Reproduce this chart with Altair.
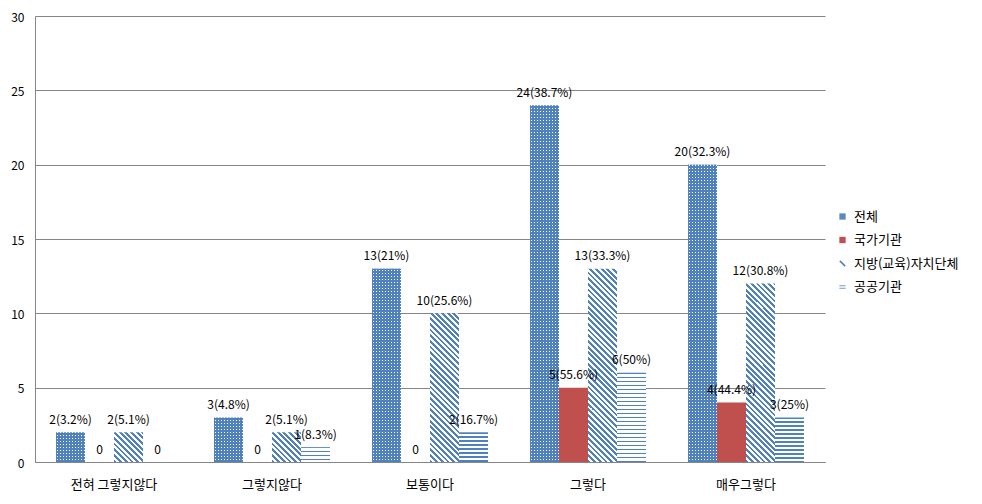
import math
import altair as alt

# ---------------- data ----------------
categories = ["전혀 그렇지않다", "그렇지않다", "보통이다", "그렇다", "매우그렇다"]
series = ["전체", "국가기관", "지방(교육)자치단체", "공공기관"]

total_vals = [2, 3, 13, 24, 20]
total_pct = ["3.2", "4.8", "21", "38.7", "32.3"]
national_vals = [0, 0, 0, 5, 4]
national_pct = ["", "", "", "55.6", "44.4"]
local_vals = [2, 2, 10, 13, 12]
local_pct = ["5.1", "5.1", "25.6", "33.3", "30.8"]
public_vals = [0, 1, 2, 6, 3]
public_pct = ["", "8.3", "16.7", "50", "25"]

y_ticks = [0, 5, 10, 15, 20, 25, 30]

# ---------------- layout / style ----------------
W, H = 790, 446
PAD_L, PAD_T = 27, 8
TOTAL_W, TOTAL_H = 966, 488
Y_MAX = 30
BAR_W = 29
STEP = W / len(categories)
PAD_INNER = 1 - 4 * BAR_W / STEP
PX = H / Y_MAX

BLUE = "#4F81BD"
RED = "#C0504D"
GRID = "#868686"
FONT = "Noto Sans CJK KR"


def hard_stops(segments):
    """segments: list of (start, end, color) in [0,1]"""
    stops = []
    for a, b, c in segments:
        a = max(0.0, min(1.0, a))
        b = max(0.0, min(1.0, b))
        stops.append({"offset": a, "color": c})
        stops.append({"offset": b, "color": c})
    return stops


def dots_fill():
    # vertical white 1px columns every 3px; a dashed overlay turns them into dots
    segs = []
    x = 0.0
    while x < BAR_W:
        segs.append((x / BAR_W, (x + 1) / BAR_W, BLUE))
        segs.append(((x + 1) / BAR_W, (x + 2) / BAR_W, "white"))
        segs.append(((x + 2) / BAR_W, (x + 3) / BAR_W, BLUE))
        x += 3
    return {"gradient": "linear", "x1": 0, "y1": 0, "x2": 1, "y2": 0,
            "stops": hard_stops(segs)}


def hline_fill(v):
    # horizontal blue lines, 1.3px every 4px, measured from the bar top
    h = v * PX
    if h <= 0:
        return "white"
    period = 4.0
    segs = []
    y = 0.0
    while y < h:
        segs.append((y / h, (y + 1.3) / h, BLUE))
        segs.append(((y + 1.3) / h, (y + period) / h, "white"))
        y += period
    return {"gradient": "linear", "x1": 0, "y1": 0, "x2": 0, "y2": 1,
            "stops": hard_stops(segs)}


def diag_fill(v):
    h = v * PX
    w = BAR_W
    if h <= 0:
        return "white"
    r = h / w
    a = (1 + r) / (1 + r * r)
    b = -r * (1 + r) / (1 + r * r)
    period = 5.7
    span = w + h
    n = int(math.ceil(span / period)) + 1
    segs = []
    for k in range(n):
        s = k * period / span
        m = (k * period + period / 2) / span
        e = (k + 1) * period / span
        if s >= 1:
            break
        segs.append((s, m, BLUE))
        segs.append((m, e, "white"))
    return {"gradient": "linear", "x1": 0, "y1": 1, "x2": a, "y2": 1 + b,
            "stops": hard_stops(segs)}


records = []
for i, c in enumerate(categories):
    for s, vals, pcts in zip(series,
                             [total_vals, national_vals, local_vals, public_vals],
                             [total_pct, national_pct, local_pct, public_pct]):
        v = vals[i]
        label = f"{v}({pcts[i]}%)" if v > 0 else "0"
        if s == series[0]:
            pat = dots_fill()
        elif s == series[1]:
            pat = RED
        elif s == series[2]:
            pat = diag_fill(v)
        else:
            pat = hline_fill(v)
        records.append({"cat": c, "series": s, "value": v, "label": label, "pat": pat})

base = alt.Chart(alt.Data(values=records))

x_enc = alt.X("cat:N", sort=categories,
              scale=alt.Scale(paddingInner=PAD_INNER, paddingOuter=PAD_INNER / 2),
              axis=alt.Axis(title=None, labelAngle=0, ticks=False, domainColor=GRID,
                            labelFont=FONT, labelFontSize=13, labelColor="#000000",
                            labelPadding=16))
xo_enc = alt.XOffset("series:N", sort=series,
                     scale=alt.Scale(paddingInner=0, paddingOuter=0))
y_scale = alt.Scale(domain=[0, Y_MAX], nice=False)
y_axis = alt.Axis(title=None, values=y_ticks, ticks=False, domainColor=GRID,
                  gridColor=GRID, grid=True, labelFont=FONT, labelFontSize=12,
                  labelColor="#000000", labelPadding=11, labelOffset=1)
y_enc = alt.Y("value:Q", scale=y_scale, axis=y_axis)

bars = base.mark_bar(strokeWidth=0).encode(
    x=x_enc, xOffset=xo_enc, y=y_enc,
    fill=alt.Fill("pat:N", scale=None, legend=None),
)

# rule drawn upward from the baseline so the dash rows stay on whole pixels
dots_overlay = base.transform_filter(alt.datum.series == series[0]).transform_calculate(
    zero="0"
).mark_rule(
    strokeWidth=BAR_W, strokeDash=[2, 1], color=BLUE
).encode(x=x_enc, xOffset=xo_enc,
         y=alt.Y("zero:Q", scale=y_scale, axis=y_axis), y2=alt.Y2("value:Q"))

labels = base.mark_text(dy=-12.5, baseline="middle", align="center",
                        font=FONT, fontSize=12, color="#000000").encode(
    x=x_enc, xOffset=xo_enc, y=y_enc, text="label:N")

legend_shapes = [
    "square",
    "square",
    "M-1,-0.65L-0.65,-1L1,0.65L0.65,1Z",
    "M-1,-0.55H1V-0.2H-1ZM-1,0.2H1V0.55H-1Z",
]
legend_colors = ["#5B88C4", RED, BLUE, "#7A9CC8"]

legend_layer = base.mark_point(filled=True, opacity=0).encode(
    x=x_enc, xOffset=xo_enc, y=y_enc,
    color=alt.Color("series:N", sort=series,
                    scale=alt.Scale(domain=series, range=legend_colors), title=None),
    shape=alt.Shape("series:N", sort=series,
                    scale=alt.Scale(domain=series, range=legend_shapes), title=None),
)

chart = alt.layer(bars, dots_overlay, labels, legend_layer).properties(
    width=W, height=H,
    autosize=alt.AutoSizeParams(type="none"),
    padding={"left": PAD_L, "top": PAD_T,
             "right": TOTAL_W - PAD_L - W, "bottom": TOTAL_H - PAD_T - H},
).configure_view(stroke=None).configure_legend(
    orient="none", legendX=801, legendY=194,
    labelFont=FONT, labelFontSize=13, labelColor="#000000",
    symbolSize=40, symbolOpacity=1, rowPadding=9.5, labelOffset=5, padding=0,
)

chart.save("out.html", embed_options={"renderer": "svg", "actions": False})
